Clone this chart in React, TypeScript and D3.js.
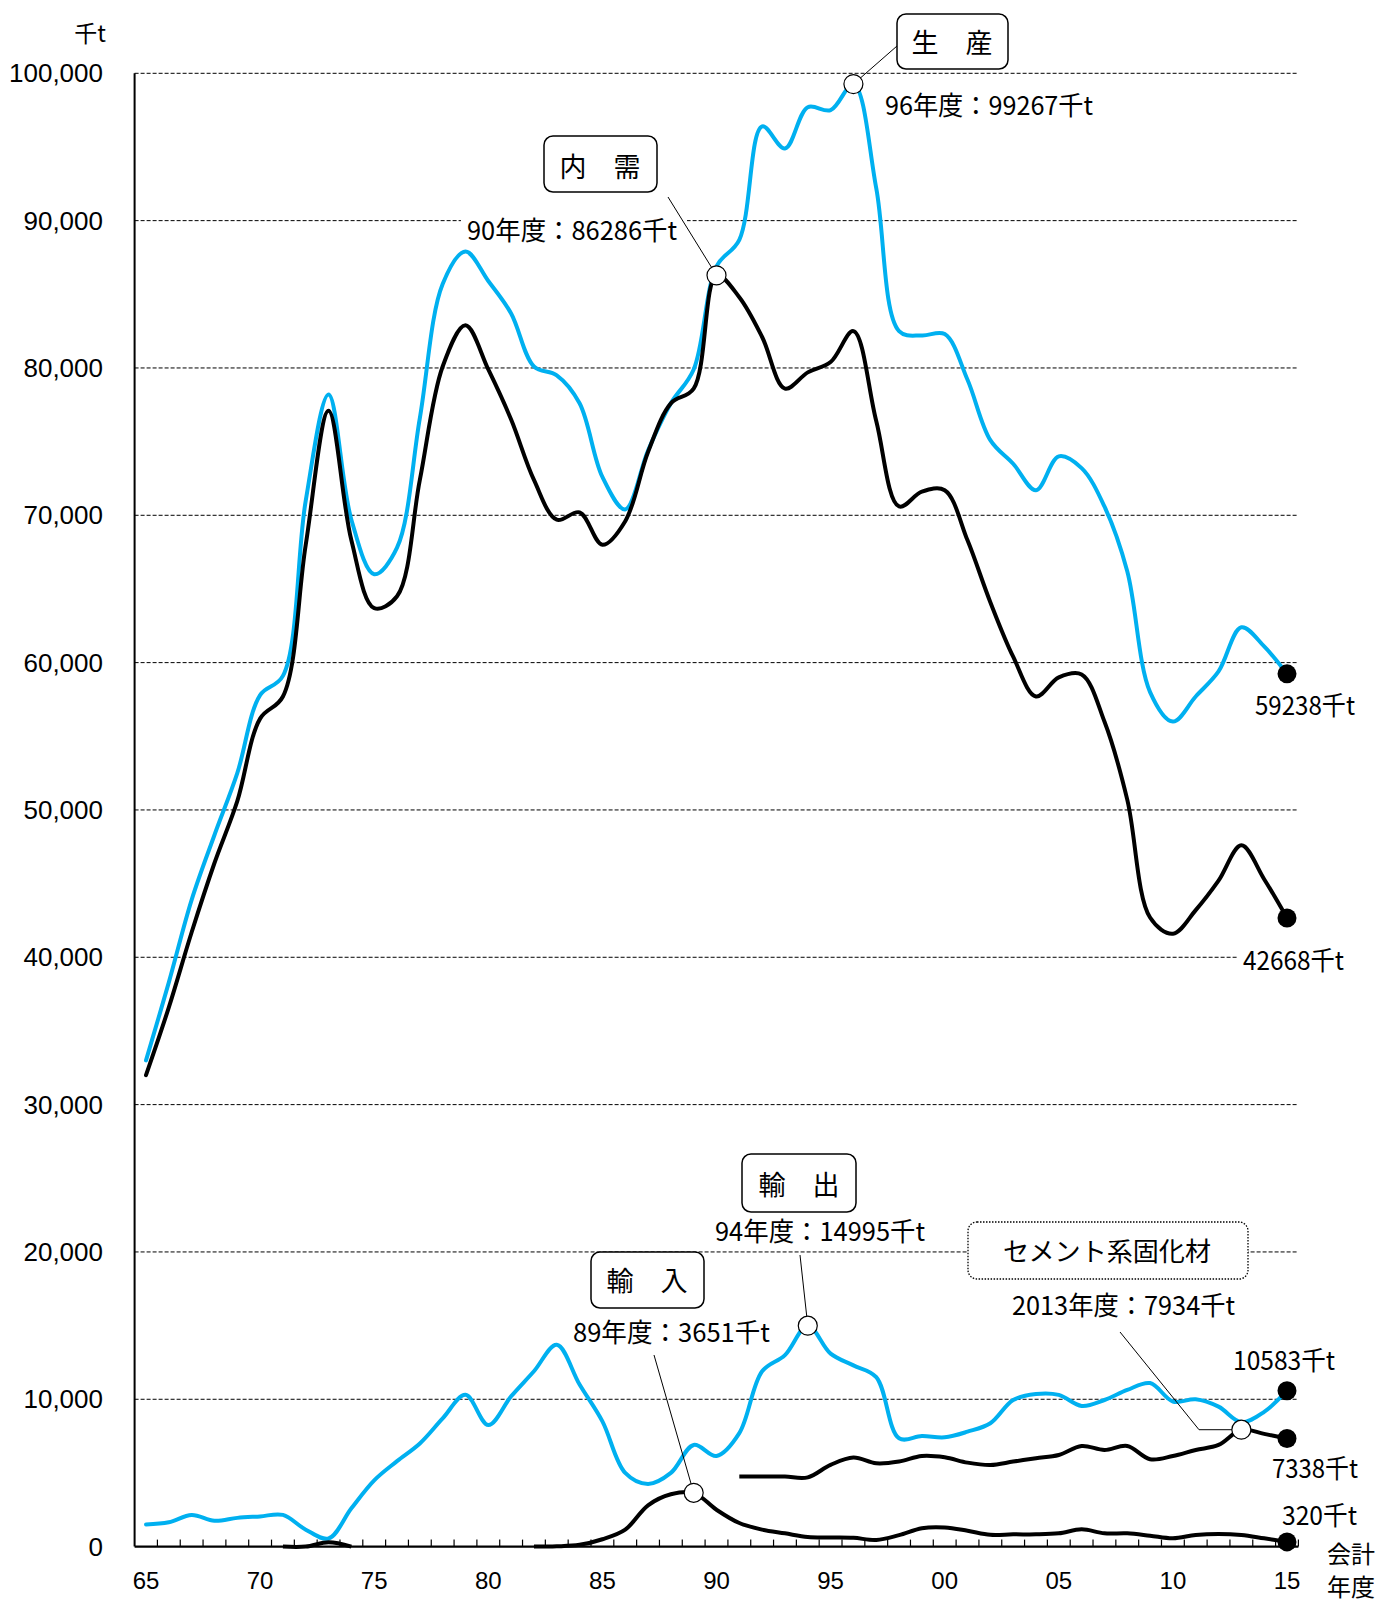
import React from 'react';
import * as d3 from 'd3';

const years = ['1965','1966','1967','1968','1969','1970','1971','1972','1973','1974','1975','1976','1977','1978','1979','1980','1981','1982','1983','1984','1985','1986','1987','1988','1989','1990','1991','1992','1993','1994','1995','1996','1997','1998','1999','2000','2001','2002','2003','2004','2005','2006','2007','2008','2009','2010','2011','2012','2013','2014','2015'];

const tickYears = ['1965','1970','1975','1980','1985','1990','1995','2000','2005','2010','2015'];
const tickLabels = ['65','70','75','80','85','90','95','00','05','10','15'];
const yTicks = [0,10000,20000,30000,40000,50000,60000,70000,80000,90000,100000];

// 生産
const production = [33000,38300,43900,48300,52500,57800,59100,71000,78200,69700,66000,67800,76600,85700,87900,85900,83700,80100,79500,77600,72600,70400,74400,77600,79900,86900,88700,96400,94900,97700,97500,99267,92200,82500,82200,82300,79200,75100,73500,71700,74000,73200,70600,66200,58000,56000,57700,59400,62400,61100,59238];
// 内需
const demand = [32000,36600,41700,46400,50600,56200,57700,68000,77100,68300,63700,64500,72400,80100,82900,79900,76500,72400,69700,70200,68000,69600,74300,77600,78600,86286,84800,82100,78600,79700,80400,82500,76400,70600,71600,71700,68300,64100,60400,57700,59000,59200,56000,50700,42700,41600,43200,45200,47600,45300,42668];
// 輸出
const exportsData = [1500,1650,2150,1750,1950,2050,2150,1150,550,2600,4500,5800,7000,8700,10300,8250,10200,11900,13700,11000,8500,5000,4250,5000,6900,6150,7700,11900,13000,14995,13100,12300,11500,7350,7500,7420,7800,8370,9950,10360,10300,9550,9950,10630,11100,9850,10000,9500,8450,9150,10583];
// 輸入
const importsData: (number | null)[] = [null,null,null,null,null,null,0,0,300,0,null,null,null,null,null,null,null,0,20,120,500,1150,2800,3550,3651,2500,1600,1150,900,650,620,600,450,780,1250,1300,1080,800,830,830,900,1170,900,900,740,560,790,860,790,560,320];
// セメント系固化材
const solidifier: (number | null)[] = [null,null,null,null,null,null,null,null,null,null,null,null,null,null,null,null,null,null,null,null,null,null,null,null,null,null,4750,4750,4750,4700,5550,6050,5650,5770,6150,6060,5700,5540,5770,6000,6220,6830,6560,6830,5930,6150,6560,6900,7934,7650,7338];

const BLUE = '#00B0F0';
const JP = "'Noto Sans CJK JP', 'Noto Sans', sans-serif";
const NUM = "'Liberation Sans', Arial, sans-serif";

export default function App() {
  const W = 1380, H = 1602;
  const x = d3.scaleBand<string>().domain(years).range([134.6, 1298.4]).padding(0);
  const bw = x.bandwidth();
  const cx = (yr: string) => (x(yr) as number) + bw / 2;
  const y = d3.scaleLinear().domain([0, 100000]).range([1546.6, 73.3]);

  const mk = (arr: (number | null)[]) =>
    d3.line<number | null>()
      .defined((d) => d !== null)
      .x((_, i) => cx(years[i]))
      .y((d) => y(d as number))
      .curve(d3.curveCatmullRom.alpha(0.5))(arr) || '';

  const idx = (yr: string) => years.indexOf(yr);
  const pt = (arr: (number | null)[], yr: string) => ({ x: cx(yr), y: y(arr[idx(yr)] as number) });

  const pProd96 = pt(production, '1996');
  const pDem90 = pt(demand, '1990');
  const pExp94 = pt(exportsData, '1994');
  const pImp89 = pt(importsData, '1989');
  const pSol13 = pt(solidifier, '2013');
  const endProd = pt(production, '2015');
  const endDem = pt(demand, '2015');
  const endExp = pt(exportsData, '2015');
  const endImp = pt(importsData, '2015');
  const endSol = pt(solidifier, '2015');

  const boundaries = years.map((yr) => (x(yr) as number) + bw);

  const box = (bx: number, by: number, bw2: number, bh: number, label: string, tx: number, ty: number, dotted = false, fs = 27, tl?: number) => (
    <g>
      <rect x={bx} y={by} width={bw2} height={bh} rx={9} ry={9} fill="#fff" stroke="#000" strokeWidth={dotted ? 1.3 : 1.5} strokeDasharray={dotted ? '1.5,1.5' : undefined} />
      <text x={tx} y={ty} textAnchor="middle" fontFamily={JP} fontSize={fs} fill="#000" {...(tl ? { textLength: tl, lengthAdjust: 'spacingAndGlyphs' } : {})}>{label}</text>
    </g>
  );

  const lab = (tx: number, ty: number, s: string, tl?: number, fs = 26) => (
    <text x={tx} y={ty} fontFamily={JP} fontSize={fs} fill="#000" {...(tl ? { textLength: tl, lengthAdjust: 'spacingAndGlyphs' } : {})}>{s}</text>
  );

  return (
    <svg width={W} height={H} style={{ position: 'absolute', left: 0, top: 0, background: '#fff' }}>
      <rect x={0} y={0} width={W} height={H} fill="#fff" />
      {/* gridlines */}
      {yTicks.filter((t) => t > 0).map((t) => (
        <line key={t} x1={134.6} x2={1298.4} y1={y(t)} y2={y(t)} stroke="#000" strokeWidth={1} strokeDasharray="4,2" />
      ))}
      {/* y tick labels */}
      {yTicks.map((t) => (
        <text key={t} x={103} y={y(t)} dy="0.35em" textAnchor="end" fontFamily={NUM} fontSize={26} fill="#000">{d3.format(',')(t)}</text>
      ))}
      <text x={90} y={42} textAnchor="middle" fontFamily={JP} fontSize={23} fill="#000">千t</text>

      {/* x ticks */}
      {boundaries.map((bx, i) => (
        <line key={i} x1={bx} x2={bx} y1={y(0)} y2={y(0) - 7} stroke="#000" strokeWidth={1.2} />
      ))}
      {tickYears.map((yr, i) => (
        <text key={yr} x={cx(yr)} y={1589} textAnchor="middle" fontFamily={NUM} fontSize={24} fill="#000">{tickLabels[i]}</text>
      ))}
      <text x={1327} y={1563} fontFamily={JP} fontSize={24} fill="#000">会計</text>
      <text x={1327} y={1596} fontFamily={JP} fontSize={24} fill="#000">年度</text>

      {/* white backgrounds for labels that sit on gridlines */}
      <rect x={461} y={212} width={226} height={32} fill="#fff" />
      <rect x={1237} y={944} width={110} height={30} fill="#fff" />

      {/* lines */}
      <path d={mk(production)} fill="none" stroke={BLUE} strokeWidth={4} strokeLinejoin="round" strokeLinecap="round" />
      <path d={mk(demand)} fill="none" stroke="#000" strokeWidth={4} strokeLinejoin="round" strokeLinecap="round" />
      <path d={mk(exportsData)} fill="none" stroke={BLUE} strokeWidth={4} strokeLinejoin="round" strokeLinecap="round" />
      <path d={mk(importsData)} fill="none" stroke="#000" strokeWidth={4} strokeLinejoin="round" />
      <path d={mk(solidifier)} fill="none" stroke="#000" strokeWidth={4} strokeLinejoin="round" />

      {/* axes */}
      <line x1={134.6} x2={134.6} y1={y(100000)} y2={y(0)} stroke="#000" strokeWidth={2} />
      <line x1={134.6} x2={1298.4} y1={y(0)} y2={y(0)} stroke="#000" strokeWidth={2.2} />

      {/* leader lines */}
      <line x1={897} y1={46} x2={pProd96.x} y2={pProd96.y} stroke="#000" strokeWidth={1} />
      <line x1={668} y1={197} x2={pDem90.x} y2={pDem90.y} stroke="#000" strokeWidth={1} />
      <line x1={800} y1={1255} x2={pExp94.x} y2={pExp94.y} stroke="#000" strokeWidth={1} />
      <line x1={654} y1={1355} x2={pImp89.x} y2={pImp89.y} stroke="#000" strokeWidth={1} />
      <polyline points={`1120,1332 1199,${pSol13.y} ${pSol13.x},${pSol13.y}`} fill="none" stroke="#000" strokeWidth={1} />

      {/* annotation circles */}
      {[pProd96, pDem90, pExp94, pImp89, pSol13].map((p, i) => (
        <circle key={i} cx={p.x} cy={p.y} r={9.5} fill="#fff" stroke="#000" strokeWidth={1.2} />
      ))}
      {/* end dots */}
      {[endProd, endDem, endExp, endImp, endSol].map((p, i) => (
        <circle key={i} cx={p.x} cy={p.y} r={9.5} fill="#000" />
      ))}

      {/* boxes */}
      {box(897, 14, 111, 55, '生　産', 952, 53)}
      {box(544, 136, 113, 56, '内　需', 600, 177)}
      {box(742, 1154, 114, 58, '輸　出', 799, 1195)}
      {box(591, 1252, 113, 56, '輸　入', 647, 1291)}
      {box(968, 1222, 280, 57, 'セメント系固化材', 1107, 1261, true, 26, 208)}

      {/* value labels */}
      {lab(885, 115, '96年度：99267千t', 208)}
      {lab(467, 240, '90年度：86286千t', 210)}
      {lab(715, 1241, '94年度：14995千t', 210)}
      {lab(573, 1342, '89年度：3651千t', 197)}
      {lab(1012, 1315, '2013年度：7934千t', 223)}
      {lab(1255, 715, '59238千t', 100)}
      {lab(1243, 970, '42668千t', 101)}
      {lab(1233, 1370, '10583千t', 102)}
      {lab(1272, 1478, '7338千t', 86)}
      {lab(1282, 1525, '320千t', 75)}
    </svg>
  );
}
